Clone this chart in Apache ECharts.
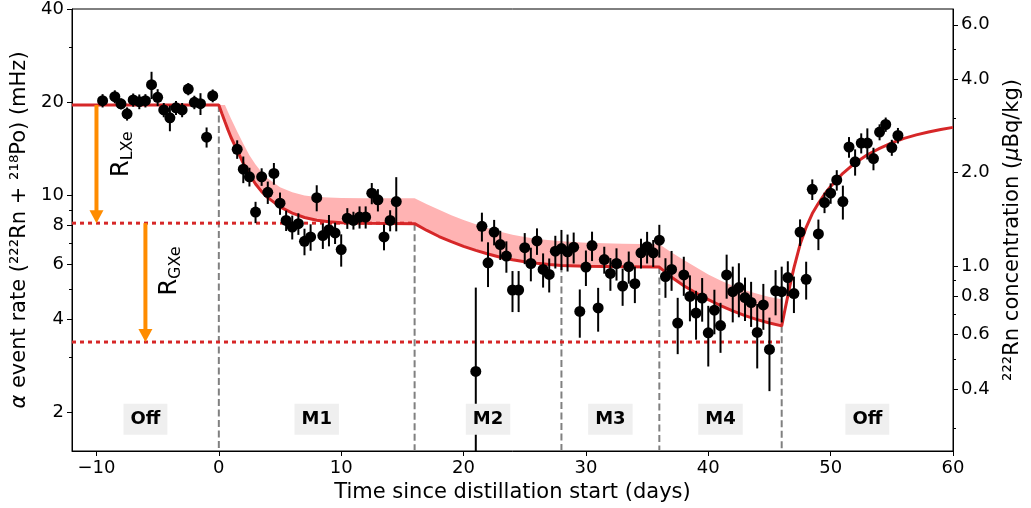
<!DOCTYPE html>
<html><head><meta charset="utf-8">
<script src="https://cdn.jsdelivr.net/npm/echarts@6/dist/echarts.min.js"></script>
<style>html,body{margin:0;padding:0;background:#fff}#c{width:1031px;height:508px}</style>
</head><body><div id="c"></div>
<script>
// ---- measured data (days since distillation start, alpha rate in mHz) ----
const days = [-9.5,-8.5,-8.0,-7.5,-7.0,-6.5,-6.0,-5.5,-5.0,-4.5,-4.0,-3.5,-3.0,-2.5,-2.0,-1.5,-1.0,-0.5,
  1.5,2.0,2.5,3.0,3.5,4.0,4.5,5.0,5.5,6.0,6.5,7.0,7.5,8.0,8.5,9.0,9.5,10.0,10.5,11.0,11.5,12.0,12.5,13.0,13.5,14.0,14.5,
  21.0,21.5,22.0,22.5,23.0,23.5,24.0,24.5,25.0,25.5,26.0,26.5,27.0,27.5,28.0,28.5,29.0,29.5,30.0,30.5,31.0,31.5,32.0,32.5,33.0,33.5,34.0,34.5,35.0,35.5,36.0,36.5,37.0,37.5,38.0,38.5,39.0,39.5,40.0,40.5,41.0,41.5,42.0,42.5,43.0,43.5,44.0,44.5,45.0,45.5,46.0,46.5,47.0,47.5,48.0,48.5,49.0,49.5,50.0,50.5,51.0,51.5,52.0,52.5,53.0,53.5,54.0,54.5,55.0,55.5];
const rate = [20.25,20.86,19.77,18.36,20.35,20.1,20.25,22.79,20.75,18.9,17.83,19.2,18.9,22.07,20.0,19.8,15.44,21.0,
  14.11,12.17,11.5,8.85,11.5,10.25,11.79,9.45,8.32,7.92,8.12,7.12,7.36,9.85,7.43,7.76,7.58,6.70,8.46,8.32,8.53,8.53,10.18,9.69,7.36,8.32,9.57,
  2.71,7.96,6.07,7.63,6.95,6.38,4.96,4.96,6.79,6.04,7.14,5.78,5.57,6.62,6.75,6.59,6.82,4.23,5.88,6.9,4.34,6.22,5.61,6.04,5.11,5.9,5.2,6.54,6.84,6.54,7.18,5.48,5.78,3.88,5.55,4.73,4.18,4.67,3.61,4.27,3.81,5.55,4.9,5.05,4.69,4.52,3.62,4.44,3.19,4.93,4.9,5.44,4.83,7.63,5.37,10.48,7.52,9.5,10.18,11.23,9.57,14.35,12.85,14.78,14.78,13.17,16.03,16.96,14.29,15.63];
const rateErr = [1.0,1.0,0.8,0.9,1.0,1.1,1.0,2.3,1.3,1.0,1.7,1.0,1.0,1.0,1.0,1.6,1.15,1.0,
  0.97,1.2,0.8,0.7,0.75,0.85,0.95,0.78,0.63,0.7,0.65,0.7,0.72,0.95,0.7,0.9,0.6,0.8,0.65,0.55,0.7,0.7,0.8,0.8,0.7,0.65,1.9,
  2.34,0.85,1.0,0.72,0.75,0.74,0.75,0.75,0.78,0.75,0.7,0.73,0.7,0.8,1.0,0.9,0.78,0.75,0.77,0.75,0.7,0.62,0.68,0.72,0.7,0.7,0.7,0.72,0.8,0.65,0.87,0.8,0.85,0.8,0.8,0.8,0.75,0.75,0.8,0.7,0.7,0.9,1.0,1.0,0.75,0.75,0.85,0.75,0.85,0.82,1.0,0.7,0.65,0.75,0.75,0.8,0.85,0.72,0.77,0.85,1.2,1.1,1.25,1.1,1.7,1.1,0.95,0.9,0.85,0.9];

// ---- model curve ----
const fitX = [-12,0,0.25,0.5,0.75,1,1.5,2,2.5,3,3.5,4,5,6,7,8,9,10,12,16,17,18,19,20,21,22,23,24,25,26,27,28,30,33,36,37,38,39,40,41,42,43,44,45,46,46.25,46.5,46.75,47,47.5,48,48.5,49,49.5,50,51,52,53,54,55,56,57,58,59,60];
const fitY = [19.6,19.6,18.4,17.3,16.3,15.4,14.0,12.7,11.7,10.9,10.3,9.85,9.2,8.78,8.5,8.33,8.23,8.18,8.14,8.12,7.72,7.38,7.1,6.86,6.66,6.48,6.33,6.21,6.12,6.05,5.99,5.95,5.92,5.9,5.88,5.45,5.12,4.85,4.62,4.42,4.25,4.1,3.98,3.88,3.8,4.25,4.75,5.3,5.85,6.95,7.9,8.75,9.45,10.1,10.7,11.8,12.75,13.55,14.2,14.8,15.3,15.7,16.05,16.35,16.6];
// upper edge of the shaded band (lower edge is the model curve)
const bandX = [0,0.5,0.75,1,1.5,2,2.5,3,3.5,4,5,6,7,8,10,12,16,17,18,19,20,21,22,23,24,25,26,28,30,33,36,37,38,39,40,41,42,43,44,45,46];
const bandUpper = [19.6,19.6,18.6,17.7,16.1,14.7,13.5,12.6,11.9,11.35,10.65,10.25,10.0,9.9,9.82,9.8,9.8,9.38,9.0,8.65,8.35,8.08,7.85,7.65,7.48,7.35,7.25,7.12,7.05,7.0,6.97,6.55,6.2,5.87,5.57,5.32,5.12,4.95,4.82,4.71,4.63];

// ---- annotations ----
const phaseBoundX = [0,16,28,36,46];
const phaseBoundTop = [19.6,8.12,5.95,5.88,3.8];
const phaseNames = ['Off','M1','M2','M3','M4','Off'];
const phaseLabelX = [-6,8,22,32,41,53];
const phaseLabelY = 1.9;
const levelY = [8.15,3.37];
const levelEnd = [16,46];
const arrowX = [-10,-6];
const arrowFrom = [19.6,8.15];
const arrowTo = [8.15,3.37];
const rLabelX = [-7.9,-4.0];
const rLabelY = [14.0,5.8];
const rLabelSub = ['LXe','GXe'];

// ---- axes ----
const X_MIN = -12, X_MAX = 60;
const Y_MIN = 1.5, Y_MAX = 40;
const xTicks = [-10,0,10,20,30,40,50,60];
const yTicks = [2,4,6,8,10,20,40];
const yMinor = [3,5,7,9,30];
const rTicks = [0.4,0.6,0.8,1.0,2.0,4.0,6.0];
const rMinor = [0.3,0.5,0.7,0.9,3,5];
const mHzPerConc = 5.93;

const FONT = 'DejaVu Sans';
const RED = '#d62728';
const TITLE_SIZE = 21;
const chart = echarts.init(document.getElementById('c'), null, {renderer:'canvas'});

function logAxis(pos, mn, mx, ticks, labels, len, fmt, extra) {
  return Object.assign({
    type:'log', logBase:10, position:pos, min:mn, max:mx,
    axisLine:{show:true, onZero:false, lineStyle:{color:'#000', width:1}},
    axisTick:{show:true, inside:false, length:len, customValues:ticks, lineStyle:{color:'#000', width:1}},
    axisLabel:{show:!!labels, customValues:labels || ticks, fontSize:18, fontFamily:FONT, color:'#000', margin:8, formatter:fmt},
    splitLine:{show:false}, minorTick:{show:false}
  }, extra || {});
}

const option = {
  animation:false,
  backgroundColor:'#fff',
  grid:{left:72, right:77, top:8, bottom:57, show:true, borderColor:'#000', borderWidth:1},
  xAxis:{
    type:'value', min:X_MIN, max:X_MAX,
    axisLine:{show:true, onZero:false, lineStyle:{color:'#000', width:1}},
    axisTick:{show:true, length:5, customValues:xTicks, lineStyle:{color:'#000'}},
    axisLabel:{customValues:xTicks, fontSize:18, fontFamily:FONT, color:'#000', margin:8,
      formatter:v => v < 0 ? '\u2212' + Math.abs(v) : String(v)},
    splitLine:{show:false},
    name:'Time since distillation start (days)', nameLocation:'middle', nameGap:29,
    nameTextStyle:{fontSize:TITLE_SIZE, fontFamily:FONT, color:'#000'}
  },
  yAxis:[
    logAxis('left', Y_MIN, Y_MAX, yTicks, yTicks, 5, v => String(Math.round(v)), {
      name:'{a|\u03b1} event rate (\u00b2\u00b2\u00b2Rn + \u00b2\u00b9\u2078Po) (mHz)', nameLocation:'middle', nameGap:38, nameRotate:90,
      nameTextStyle:{fontSize:TITLE_SIZE, fontFamily:FONT, color:'#000', rich:{a:{fontSize:TITLE_SIZE, fontFamily:FONT, fontStyle:'italic', color:'#000'}}}
    }),
    logAxis('right', Y_MIN/mHzPerConc, Y_MAX/mHzPerConc, rTicks, rTicks, 5, v => v.toFixed(1), {
      name:'\u00b2\u00b2\u00b2Rn concentration ({m|\u03bc}Bq/kg)', nameLocation:'middle', nameGap:49, nameRotate:90,
      nameTextStyle:{fontSize:TITLE_SIZE, fontFamily:FONT, color:'#000', rich:{m:{fontSize:TITLE_SIZE, fontFamily:FONT, fontStyle:'italic', color:'#000'}}}
    }),
    logAxis('left', Y_MIN, Y_MAX, yMinor, null, 3, null, {axisLine:{show:false, onZero:false}}),
    logAxis('right', Y_MIN/mHzPerConc, Y_MAX/mHzPerConc, rMinor, null, 3, null, {axisLine:{show:false, onZero:false}})
  ],
  series:[
    { // shaded band
      type:'custom', z:1, clip:true, silent:true,
      data:[[0,10]],
      renderItem:(params, api) => {
        const pts = bandX.map((x,i) => api.coord([x, bandUpper[i]]));
        for (let i = fitX.length - 1; i >= 0; i--) {
          if (fitX[i] >= bandX[0] && fitX[i] <= bandX[bandX.length-1]) pts.push(api.coord([fitX[i], fitY[i]]));
        }
        return {type:'polygon', shape:{points:pts}, style:{fill:'#ffb3b3'}};
      }
    },
    { // phase boundaries (grey dashed)
      type:'custom', z:2, silent:true,
      data:phaseBoundX.map((x,i) => [x, phaseBoundTop[i]]),
      renderItem:(params, api) => {
        const p1 = api.coord([api.value(0), api.value(1)]);
        const p2 = api.coord([api.value(0), Y_MIN]);
        return {type:'line', shape:{x1:p1[0], y1:p1[1], x2:p2[0], y2:p2[1]},
          style:{stroke:'#808080', lineWidth:2, lineDash:[7,3.5]}};
      }
    },
    { // red dotted levels
      type:'custom', z:2, silent:true,
      data:levelY.map((y,i) => [levelEnd[i], y]),
      renderItem:(params, api) => {
        const p1 = api.coord([X_MIN, api.value(1)]);
        const p2 = api.coord([api.value(0), api.value(1)]);
        return {type:'line', shape:{x1:p1[0], y1:p1[1], x2:p2[0], y2:p2[1]},
          style:{stroke:RED, lineWidth:3, lineDash:[4,4]}};
      }
    },
    { // model curve
      type:'line', z:3, silent:true, symbol:'none', smooth:false,
      data:fitX.map((x,i) => [x, fitY[i]]),
      lineStyle:{color:RED, width:3}
    },
    { // orange arrows
      type:'custom', z:4, silent:true,
      data:arrowX.map((x,i) => [x, arrowFrom[i], arrowTo[i]]),
      renderItem:(params, api) => {
        const p1 = api.coord([api.value(0), api.value(1)]);
        const p2 = api.coord([api.value(0), api.value(2)]);
        const hl = 13, hw = 7;
        return {type:'group', children:[
          {type:'line', shape:{x1:p1[0], y1:p1[1], x2:p2[0], y2:p2[1]-hl+1}, style:{stroke:'#ff8c00', lineWidth:4}},
          {type:'polygon', shape:{points:[[p2[0]-hw, p2[1]-hl],[p2[0]+hw, p2[1]-hl],[p2[0], p2[1]]]}, style:{fill:'#ff8c00'}}
        ]};
      }
    },
    { // error bars
      type:'custom', z:5, silent:true, clip:true,
      data:days.map((d,i) => [d, rate[i], rateErr[i]]),
      renderItem:(params, api) => {
        const x = api.value(0), y = api.value(1), e = api.value(2);
        const p1 = api.coord([x, y + e]);
        const p2 = api.coord([x, Math.max(y - e, Y_MIN)]);
        return {type:'line', shape:{x1:p1[0], y1:p1[1], x2:p2[0], y2:p2[1]}, style:{stroke:'#000', lineWidth:2}};
      }
    },
    { // data points
      type:'scatter', z:6, silent:true, symbol:'circle', symbolSize:11,
      data:days.map((d,i) => [d, rate[i]]),
      itemStyle:{color:'#000', opacity:1}
    },
    { // phase labels
      type:'custom', z:7, silent:true,
      data:phaseLabelX.map(x => [x, phaseLabelY]),
      renderItem:(params, api) => {
        const p = api.coord([api.value(0), api.value(1)]);
        return {type:'text', x:p[0], y:p[1], style:{text:phaseNames[params.dataIndex], fontSize:18, fontWeight:'bold',
          fontFamily:FONT, fill:'#000', align:'center', verticalAlign:'middle', backgroundColor:'#efefef', padding:[7,7,6,7]}};
      }
    },
    { // R labels
      type:'custom', z:7, silent:true,
      data:rLabelX.map((x,i) => [x, rLabelY[i]]),
      renderItem:(params, api) => {
        const p = api.coord([api.value(0), api.value(1)]);
        return {type:'group', x:p[0], y:p[1], rotation:Math.PI/2, children:[
          {type:'text', x:-10, y:0, style:{text:'R', fontSize:24, fontFamily:FONT, fill:'#000', align:'right', verticalAlign:'middle'}},
          {type:'text', x:-10, y:6, style:{text:rLabelSub[params.dataIndex], fontSize:16, fontFamily:FONT, fill:'#000', align:'left', verticalAlign:'middle'}}
        ]};
      }
    }
  ]
};
chart.setOption(option);
</script>
</body></html>
